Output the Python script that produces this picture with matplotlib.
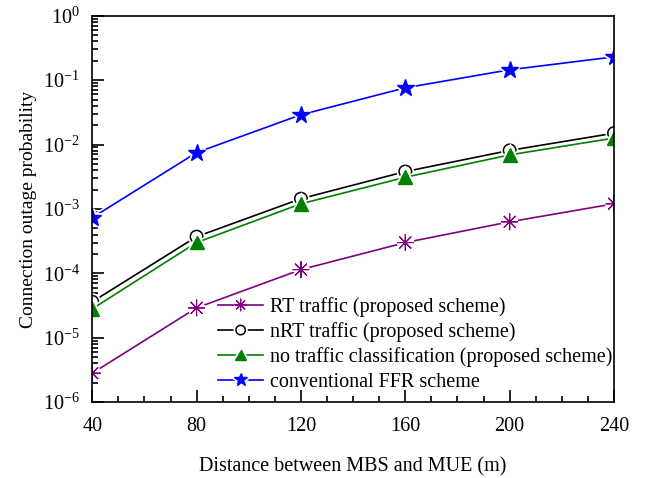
import math
import matplotlib.pyplot as plt
import matplotlib.patheffects as pe
from matplotlib.ticker import LogLocator, MultipleLocator, NullFormatter, FuncFormatter

plt.rcParams['font.family'] = ['Liberation Serif', 'DejaVu Serif']
plt.rcParams['mathtext.fontset'] = 'custom'
plt.rcParams['mathtext.rm'] = 'Liberation Serif'

# Data
distance = [40, 80, 120, 160, 200, 240]
rt_traffic = [2.8e-6, 2.9e-5, 1.14e-4, 3.0e-4, 6.3e-4, 1.2e-3]
nrt_traffic = [3.6e-5, 3.7e-4, 1.44e-3, 3.8e-3, 8.1e-3, 1.5e-2]
no_class = [2.8e-5, 3.0e-4, 1.2e-3, 3.1e-3, 6.9e-3, 1.26e-2]
conventional = [7.3e-4, 7.5e-3, 2.9e-2, 7.6e-2, 1.45e-1, 2.3e-1]

labels = ["RT traffic (proposed scheme)",
          "nRT traffic (proposed scheme)",
          "no traffic classification (proposed scheme)",
          "conventional FFR scheme"]

fig = plt.figure(figsize=(6.45, 4.78), dpi=100)
ax = fig.add_axes([0.143, 0.159, 0.809, 0.808])

# white halo around markers -> gap in the line like the original
halo = [pe.withStroke(linewidth=3.5, foreground='white')]

ax.plot(distance, rt_traffic, color='#800080', marker=(8, 2, 0), markersize=12,
        mew=0.8, lw=1.2, label=labels[0], path_effects=halo)
ax.plot(distance, nrt_traffic, color='black', marker='o', markersize=9,
        mfc='white', mec='black', mew=1.1, lw=1.2, label=labels[1],
        path_effects=halo)
ax.plot(distance, no_class, color='#008000', marker='^', markersize=10,
        lw=1.2, label=labels[2], path_effects=halo)
ax.plot(distance, conventional, color='#0000FF', marker='*', markersize=13,
        lw=1.2, label=labels[3], path_effects=halo)

ax.set_yscale('log')
ax.set_xlim(40, 240)
ax.set_ylim(1e-6, 1)
ax.set_xticks(distance)
ax.xaxis.set_minor_locator(MultipleLocator(10))
ax.yaxis.set_major_locator(LogLocator(base=10, numticks=10))
ax.yaxis.set_major_formatter(FuncFormatter(
    lambda v, p: r"$\mathregular{10^{%d}}$" % round(math.log10(v))))
ax.yaxis.set_minor_locator(LogLocator(base=10, subs=range(2, 10), numticks=20))
ax.yaxis.set_minor_formatter(NullFormatter())

ax.tick_params(which='both', direction='in', top=False, right=False,
               labelsize=14.5, width=1.2)
ax.tick_params(axis='x', which='major', length=8.5, pad=11)
ax.tick_params(axis='y', which='major', length=8.5, pad=9)
ax.tick_params(which='minor', length=4.5)
for s in ax.spines.values():
    s.set_linewidth(1.2)

ax.set_xlabel("Distance between MBS and MUE (m)", fontsize=14.5, labelpad=15)
ax.set_ylabel("Connection outage probability", fontsize=14, labelpad=4)

ax.legend(loc='lower left', bbox_to_anchor=(0.241, 0.027), frameon=False,
          fontsize=14.5, handlelength=2.25, handletextpad=0.35,
          labelspacing=0.26, borderpad=0, borderaxespad=0, numpoints=1,
          markerscale=0.75)

fig.savefig("out.png", dpi=100)
